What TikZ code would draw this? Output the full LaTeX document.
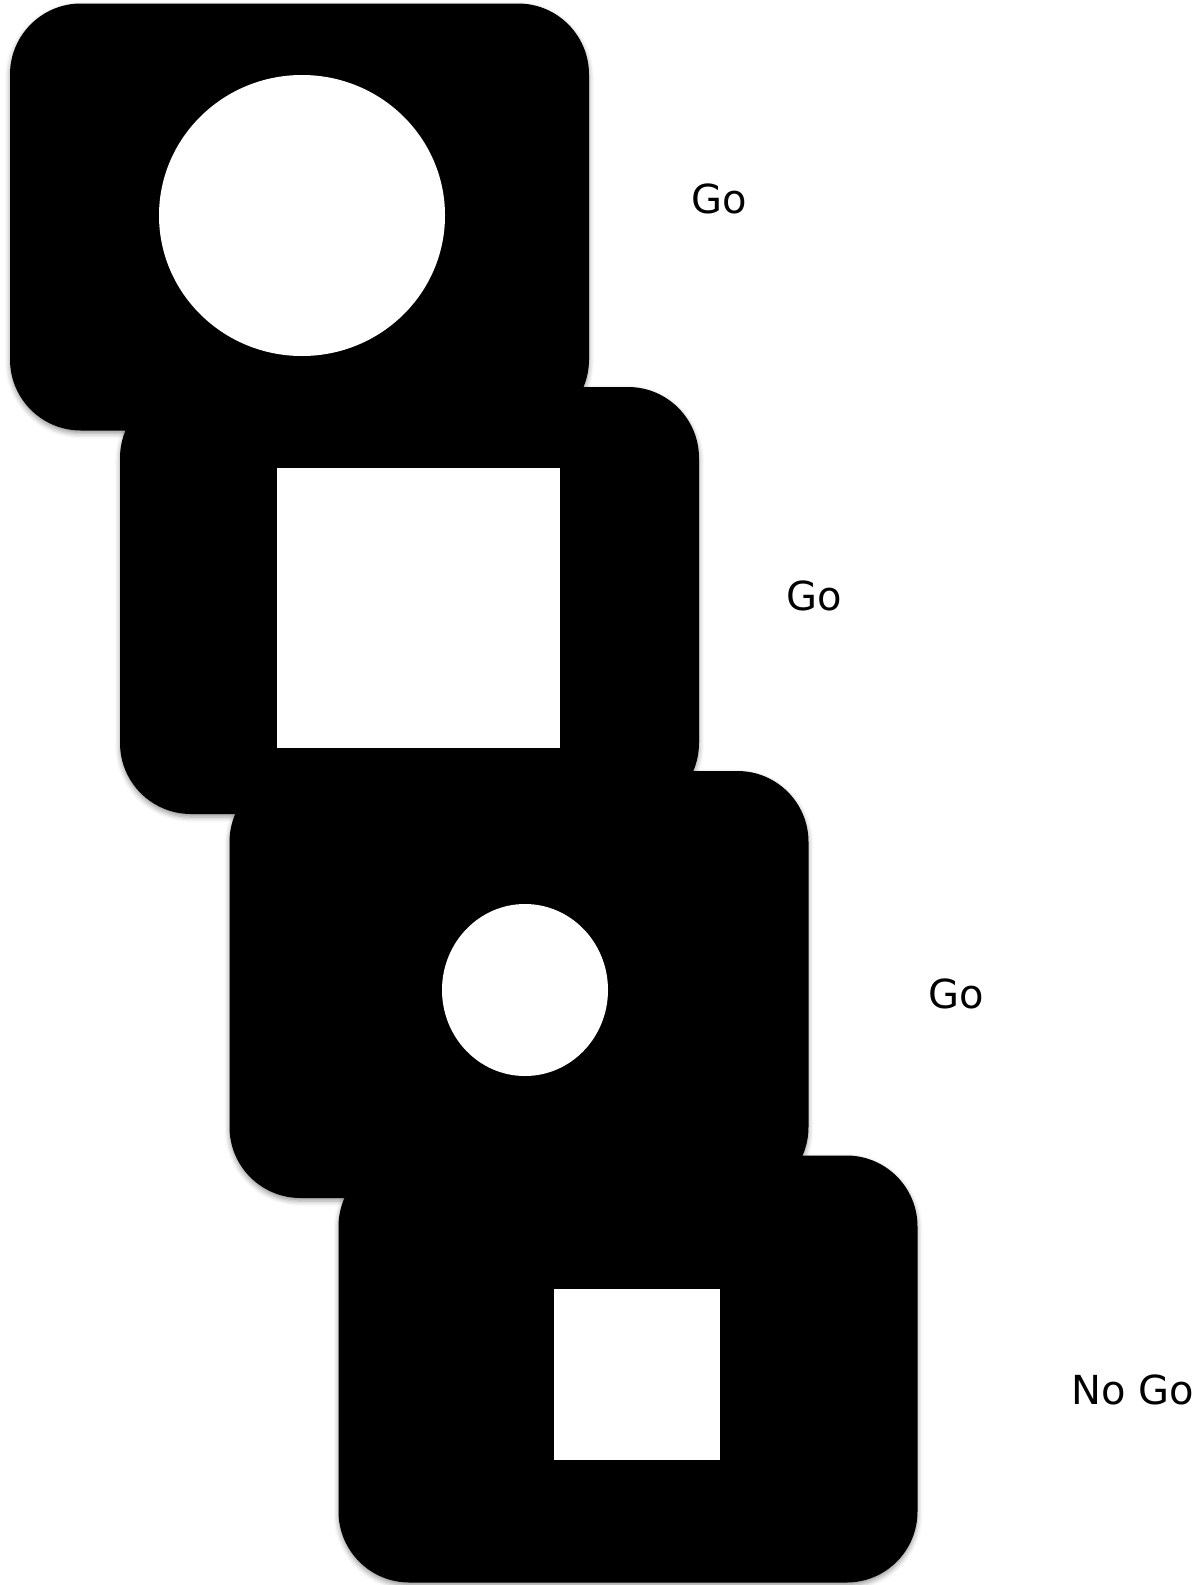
\documentclass[tikz,border=0pt]{standalone}
\usepackage{fontspec}
\setmainfont{DejaVu Sans}
\usetikzlibrary{shadows.blur,shapes.geometric}
\begin{document}
\begin{tikzpicture}[x=1pt,y=-1pt,
  card/.style={rectangle, rounded corners=71pt, fill=black, draw=none,
    minimum width=579pt, minimum height=427pt, inner sep=0pt,
    blur shadow={shadow xshift=0pt, shadow yshift=-3pt, shadow blur radius=5pt, shadow opacity=40}},
  stim/.style={fill=white, draw=none, inner sep=0pt},
  lbl/.style={font=\fontsize{40}{48}\selectfont, inner sep=0pt}]
\useasboundingbox (0,0) rectangle (1203,1585);
% card 4
\node[card] (c4) at (628,1369) {};
\node[stim, rectangle, minimum width=166pt, minimum height=171pt] (s4) at (637,1374.5) {};
% card 3
\node[card] (c3) at (519,984.5) {};
\node[stim, ellipse, minimum width=166pt, minimum height=172pt] (s3) at (525,990) {};
% card 2
\node[card] (c2) at (409.5,600.5) {};
\node[stim, rectangle, minimum width=283pt, minimum height=280pt] (s2) at (418.5,608) {};
% card 1
\node[card] (c1) at (299.5,217) {};
\node[stim, ellipse, minimum width=286pt, minimum height=281pt] (s1) at (302,215.5) {};
% labels
\node[lbl] (l1) at (719,199) {Go};
\node[lbl] (l2) at (814,596) {Go};
\node[lbl] (l3) at (956,994) {Go};
\node[lbl] (l4) at (1133,1390) {No Go};
\end{tikzpicture}
\end{document}
